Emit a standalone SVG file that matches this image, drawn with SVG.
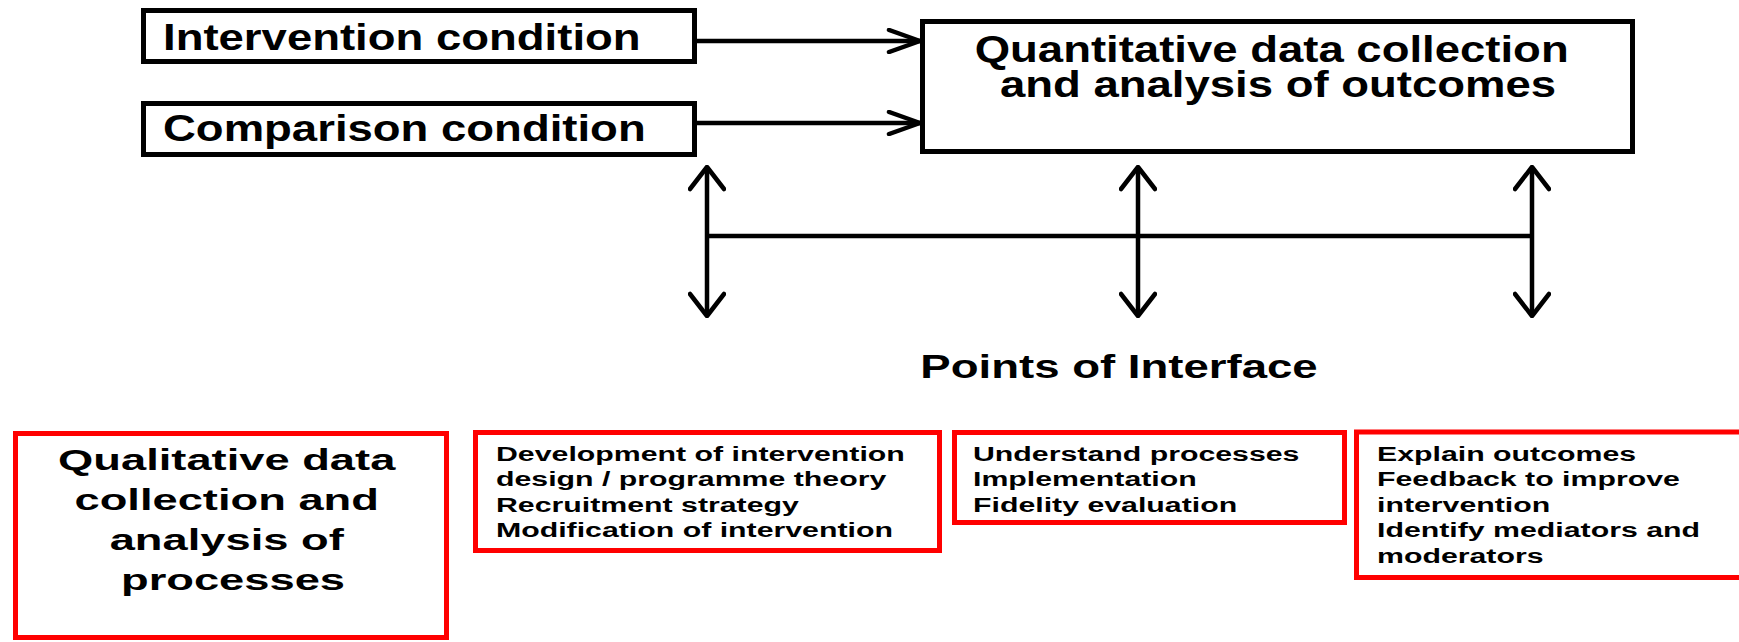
<svg xmlns="http://www.w3.org/2000/svg" width="1739" height="642" viewBox="0 0 1739 642">
  <style>
    .bg { fill: #ffffff; }
    .box { fill: #ffffff; stroke: #000000; stroke-width: 5; }
    .rbox { fill: #ffffff; stroke: #ff0000; stroke-width: 5; }
    .t { font-family: "Liberation Sans", Arial, sans-serif; font-weight: bold; fill: #000000; }
    .big { font-size: 36px; }
    .mid { font-size: 34px; }
    .qual { font-size: 30px; }
    .small { font-size: 21px; }
    .wire { fill: none; stroke: #000000; stroke-width: 4.5; }
  </style>
  <defs>
    <!-- open chevron heads -->
    <marker id="hArrow" viewBox="-34 -13 36 26" refX="0" refY="0" markerWidth="36" markerHeight="26" markerUnits="userSpaceOnUse" orient="auto">
      <path d="M -31 -11 L 0 0 L -31 11" fill="none" stroke="#000" stroke-width="4.5" stroke-linecap="round" stroke-linejoin="round"/>
    </marker>
    <marker id="vArrow" viewBox="-25 -19 27 38" refX="0" refY="0" markerWidth="27" markerHeight="38" markerUnits="userSpaceOnUse" orient="auto-start-reverse">
      <path d="M -22 -17 L 0 0 L -22 17" fill="none" stroke="#000" stroke-width="4.5" stroke-linecap="round" stroke-linejoin="round"/>
    </marker>
  </defs>

  <rect class="bg" x="0" y="0" width="1739" height="642"/>

  <!-- connectors -->
  <g id="connectors">
    <line class="wire" x1="697" y1="41" x2="920" y2="41" marker-end="url(#hArrow)"/>
    <line class="wire" x1="697" y1="123" x2="920" y2="123" marker-end="url(#hArrow)"/>
    <line class="wire" x1="707" y1="236" x2="1532" y2="236"/>
    <line class="wire" x1="707" y1="167" x2="707" y2="316" marker-start="url(#vArrow)" marker-end="url(#vArrow)"/>
    <line class="wire" x1="1138" y1="167" x2="1138" y2="316" marker-start="url(#vArrow)" marker-end="url(#vArrow)"/>
    <line class="wire" x1="1532" y1="167" x2="1532" y2="316" marker-start="url(#vArrow)" marker-end="url(#vArrow)"/>
  </g>

  <g id="intervention">
    <rect class="box" x="143.5" y="10.5" width="551" height="51"/>
    <text class="t big" transform="matrix(1.264 0 0 1 163 0)" x="0" y="50">Intervention condition</text>
  </g>

  <g id="comparison">
    <rect class="box" x="143.5" y="103.5" width="551" height="51"/>
    <text class="t big" transform="matrix(1.264 0 0 1 163 0)" x="0" y="141">Comparison condition</text>
  </g>

  <g id="quantitative">
    <rect class="box" x="922.5" y="21.5" width="710" height="130"/>
    <text class="t big" text-anchor="middle" transform="matrix(1.264 0 0 1 1278 0)">
      <tspan x="0" y="62">Quantitative data collection</tspan>
      <tspan x="0" y="97">and analysis of outcomes</tspan>
    </text>
  </g>

  <g id="interface-label">
    <text class="t mid" text-anchor="middle" transform="matrix(1.34 0 0 1 1119 0)" x="0" y="378">Points of Interface</text>
  </g>

  <g id="qualitative">
    <rect class="rbox" x="15.5" y="433.5" width="431" height="204"/>
    <text class="t qual" text-anchor="middle" transform="matrix(1.51 0 0 1 233 0)">
      <tspan x="0" y="470">Qualitative data</tspan>
      <tspan x="0" y="510">collection and</tspan>
      <tspan x="0" y="550">analysis of</tspan>
      <tspan x="0" y="590">processes</tspan>
    </text>
  </g>

  <g id="design">
    <rect class="rbox" x="475.5" y="432.5" width="464" height="118"/>
    <text class="t small" transform="matrix(1.443 0 0 1 496 0)">
      <tspan x="0" y="461">Development of intervention</tspan>
      <tspan x="0" y="486">design / programme theory</tspan>
      <tspan x="0" y="512">Recruitment strategy</tspan>
      <tspan x="0" y="537">Modification of intervention</tspan>
    </text>
  </g>

  <g id="processes">
    <rect class="rbox" x="954.5" y="432.5" width="390" height="90"/>
    <text class="t small" transform="matrix(1.443 0 0 1 973 0)">
      <tspan x="0" y="461">Understand processes</tspan>
      <tspan x="0" y="486">Implementation</tspan>
      <tspan x="0" y="512">Fidelity evaluation</tspan>
    </text>
  </g>

  <g id="outcomes">
    <rect class="rbox" x="1356.5" y="432" width="400" height="145.5"/>
    <text class="t small" transform="matrix(1.443 0 0 1 1377 0)">
      <tspan x="0" y="461">Explain outcomes</tspan>
      <tspan x="0" y="486">Feedback to improve</tspan>
      <tspan x="0" y="512">intervention</tspan>
      <tspan x="0" y="537">Identify mediators and</tspan>
      <tspan x="0" y="563">moderators</tspan>
    </text>
  </g>
</svg>
